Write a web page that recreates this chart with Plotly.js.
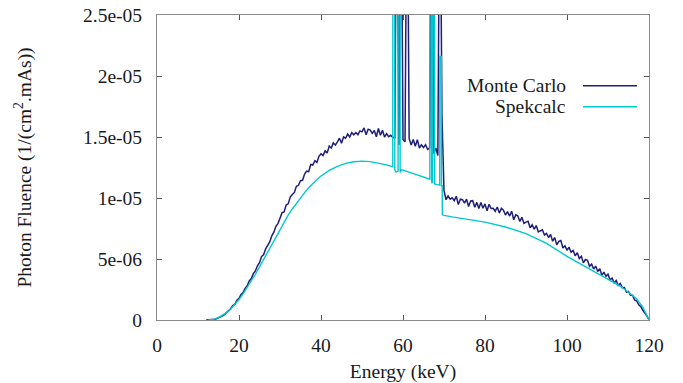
<!DOCTYPE html>
<html>
<head>
<meta charset="utf-8">
<script src="https://cdn.plot.ly/plotly-3.0.1.min.js"></script>
<style>html,body{margin:0;padding:0;background:#fff;}#chart{width:683px;height:383px;}</style>
</head>
<body>
<div id="chart"></div>
<script>
// ---- data (fluence values in units of 1e-6 photons/(cm^2.mAs)) ----
const seriesNames = ["Monte Carlo", "Spekcalc"];
const seriesColors = ["#1e1e78", "#00c8d2"];

// Monte Carlo: energy bins start at 12 keV, 0.5 keV wide
const mcStartKeV = 12.0;
const mcStepKeV = 0.5;
const mcFluence = [
  0, 0, 0.01, 0.03, 0.06, 0.10, 0.16, 0.24, 0.34, 0.46,
  0.60, 0.76, 0.94, 1.18, 1.30, 1.62, 1.77, 2.09, 2.25, 2.60,
  2.81, 3.20, 3.40, 3.80, 4.02, 4.44, 4.70, 5.20, 5.35, 5.84,
  6.18, 6.40, 6.90, 7.20, 7.68, 7.90, 8.34, 8.80, 8.86, 9.42,
  9.52, 10.08, 10.28, 10.46, 10.96, 11.04, 11.42, 11.45, 11.96, 12.20,
  12.16, 12.75, 12.70, 13.06, 12.92, 13.42, 13.62, 13.48, 13.86, 13.68,
  14.26, 14.10, 14.52, 14.34, 14.60, 14.90, 14.48, 15.00, 14.90, 15.24,
  15.00, 15.36, 15.18, 15.36, 15.18, 15.50, 15.42, 15.74, 15.18, 15.64,
  15.56, 15.30, 15.54, 15.02, 15.70, 15.14, 15.56, 15.00, 15.28, 15.02,
  15.14, 14.96, 14.96, 40.0, 14.36, 40.0, 14.80, 14.60, 40.0, 14.86,
  14.34, 14.80, 14.24, 14.78, 14.10, 14.36, 14.14, 14.36, 13.98, 14.10,
  40.0, 13.64, 14.10, 13.48, 40.0, 16.80, 10.60, 9.86, 10.16, 9.90,
  10.02, 9.78, 10.14, 9.46, 9.90, 9.86, 9.58, 9.90, 9.30, 9.76,
  9.78, 9.24, 9.64, 9.14, 9.64, 9.16, 9.52, 8.96, 9.48, 9.14,
  9.16, 8.92, 9.26, 8.76, 9.16, 9.00, 8.60, 8.88, 8.52, 8.92,
  8.22, 8.62, 8.54, 8.08, 8.42, 7.92, 8.02, 8.10, 7.56, 7.80,
  7.44, 7.74, 7.22, 7.34, 7.40, 6.96, 7.10, 6.76, 7.02, 6.46,
  6.76, 6.16, 6.44, 6.52, 5.90, 6.08, 5.72, 5.96, 5.56, 5.70,
  5.26, 5.52, 5.04, 5.22, 4.68, 4.96, 4.90, 4.40, 4.58, 4.18,
  4.42, 3.98, 4.20, 3.66, 3.92, 3.58, 3.76, 3.28, 3.44, 3.02,
  3.24, 2.84, 3.00, 2.64, 2.66, 2.28, 2.34, 2.02, 2.02, 1.64,
  1.56, 1.24, 1.10, 0.80, 0.60, 0.32, 0.02
];

// Spekcalc
const spekEnergy = [
  12.5, 13, 14, 15, 16, 17, 18, 19, 20, 21, 22, 23, 24, 25, 26, 27, 28, 29, 30,
  31, 32, 33, 34, 35, 36, 37, 38, 39, 40, 42, 44, 46, 48, 50, 52, 54, 56, 57.5,
  57.55, 57.95, 58.0, 58.3, 58.8, 58.85, 59.25, 59.3, 59.6, 62, 64, 66,
  66.55, 66.6, 66.95, 67.0, 67.2, 67.25, 67.65, 67.7, 68.95, 69.0, 69.35, 69.4,
  69.55, 69.6, 70, 72, 75, 80, 85, 90, 95, 100, 105, 110, 113, 115, 117, 118.5, 120
];
const spekFluence = [
  0, 0.01, 0.07, 0.19, 0.37, 0.60, 0.90, 1.26, 1.68, 2.14, 2.64, 3.18, 3.75, 4.35, 4.95, 5.55, 6.15, 6.80, 7.45,
  8.05, 8.60, 9.10, 9.58, 10.02, 10.44, 10.84, 11.20, 11.52, 11.80, 12.26, 12.60, 12.84, 12.97, 13.02, 12.98, 12.88, 12.72, 12.56,
  40.0, 40.0, 12.30, 12.12, 12.20, 40.0, 40.0, 12.10, 12.32, 12.06, 11.82, 11.60,
  11.54, 40.0, 40.0, 11.22, 11.30, 40.0, 40.0, 11.16, 11.05, 21.6, 21.6, 11.00,
  11.00, 8.62, 8.58, 8.45, 8.28, 8.02, 7.62, 7.08, 6.28, 5.22, 4.28, 3.32, 2.78, 2.28, 1.72, 1.05, 0
];

// axis ticks
const xTickVals = [0, 20, 40, 60, 80, 100, 120];
const yTickVals = [0, 5e-6, 1e-5, 1.5e-5, 2e-5, 2.5e-5];
const yTickText = ["0", "5e-06", "1e-05", "1.5e-05", "2e-05", "2.5e-05"];

// ---- build ----
const mcEnergy = mcFluence.map((_, i) => mcStartKeV + i * mcStepKeV);
const mcValues = mcFluence.map(v => v * 1e-6);
const spekValues = spekFluence.map(v => v * 1e-6);

const font = "'Liberation Serif', 'DejaVu Serif', serif";
const txtColor = "#1a1a1a";

const traces = [
  {x: mcEnergy, y: mcValues, name: seriesNames[0], type: "scatter", mode: "lines",
   line: {color: seriesColors[0], width: 1.5}},
  {x: spekEnergy, y: spekValues, name: seriesNames[1], type: "scatter", mode: "lines",
   line: {color: seriesColors[1], width: 1.4}}
];

const axisCommon = {
  showgrid: false, zeroline: false, showline: true, linecolor: "#8a8a8a", linewidth: 1,
  mirror: "ticks", ticks: "inside", ticklen: 5, tickcolor: "#555", tickwidth: 1,
  tickfont: {family: font, size: 19.5, color: txtColor}
};

const layout = {
  width: 683, height: 383,
  margin: {l: 157, r: 34, t: 15, b: 63},
  paper_bgcolor: "#fff", plot_bgcolor: "#fff",
  font: {family: font, size: 19.5, color: txtColor},
  showlegend: false,
  xaxis: Object.assign({}, axisCommon, {
    range: [0, 120], tickvals: xTickVals, ticklabelstandoff: 8,
    title: {text: "Energy (keV)", font: {family: font, size: 19.5, color: txtColor}, standoff: 10}
  }),
  yaxis: Object.assign({}, axisCommon, {
    range: [0, 2.5e-5], tickvals: yTickVals, ticktext: yTickText, ticklabelstandoff: 10,
    title: {text: "Photon Fluence (1/(cm<sup>2</sup>.mAs))", font: {family: font, size: 19.5, color: txtColor}, standoff: 46}
  }),
  annotations: seriesNames.map((n, i) => ({
    xref: "paper", yref: "paper", x: 0.8354, y: i === 0 ? 0.7682 : 0.6993,
    xanchor: "right", yanchor: "middle", showarrow: false, text: n,
    font: {family: font, size: 19.5, color: txtColor}
  })),
  shapes: seriesNames.map((n, i) => ({
    type: "line", xref: "paper", yref: "paper",
    x0: 0.8659, x1: 0.9756, y0: i === 0 ? 0.7682 : 0.6993, y1: i === 0 ? 0.7682 : 0.6993,
    line: {color: seriesColors[i], width: 1.5}
  }))
};

Plotly.newPlot("chart", traces, layout, {staticPlot: true, displayModeBar: false});
</script>
</body>
</html>
